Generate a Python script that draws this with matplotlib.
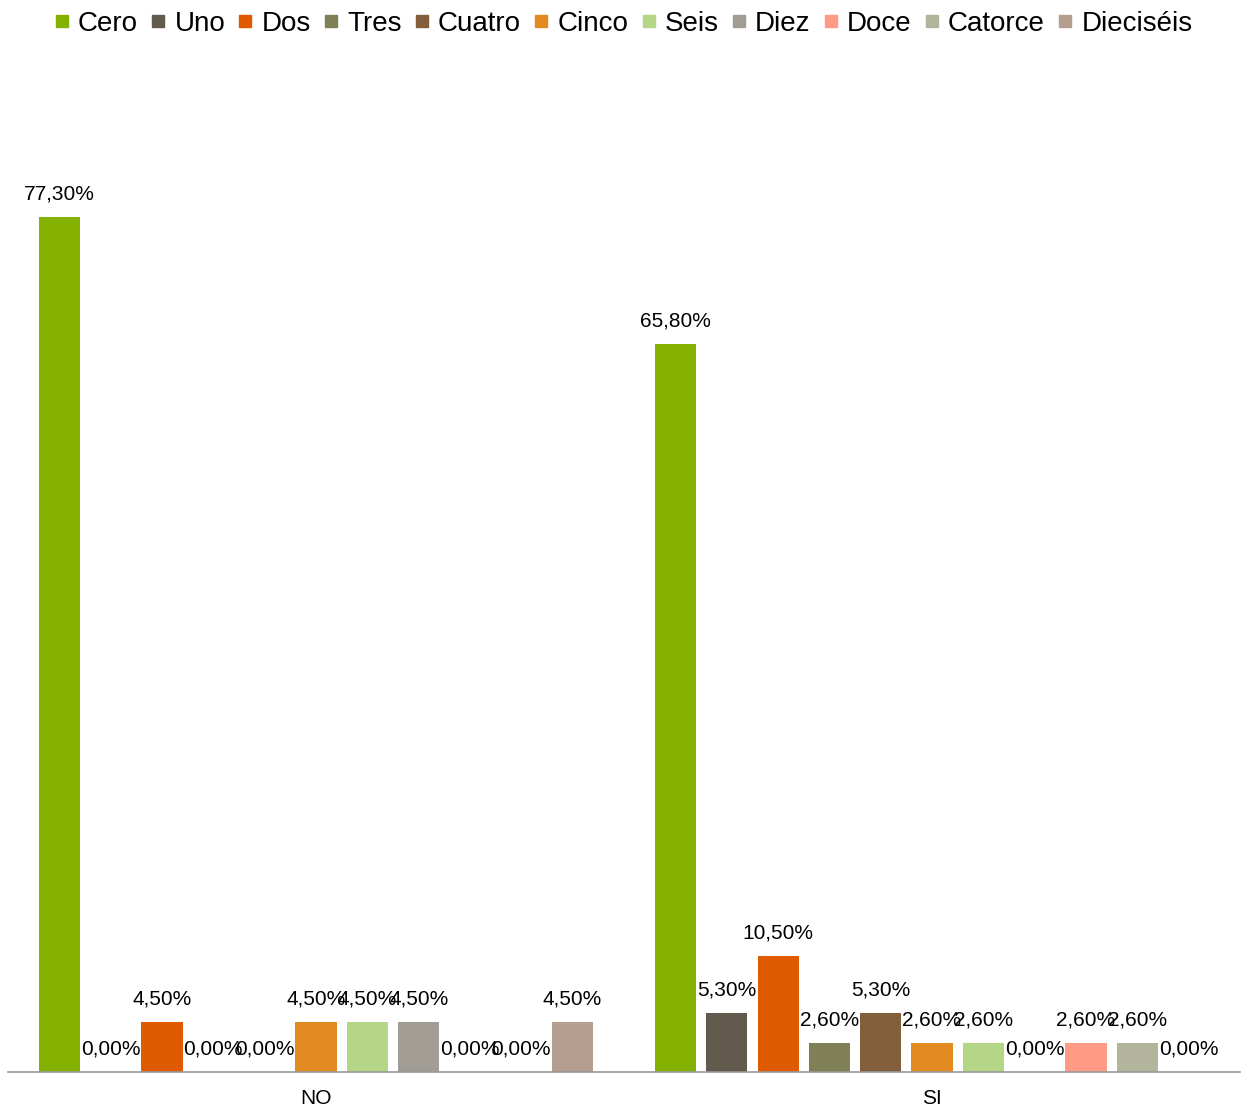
import numpy as np
import matplotlib.pyplot as plt
from matplotlib.lines import Line2D

plt.rcParams["font.family"] = ["Liberation Sans", "DejaVu Sans"]

groups = ["NO", "SI"]
series = ["Cero", "Uno", "Dos", "Tres", "Cuatro", "Cinco", "Seis",
          "Diez", "Doce", "Catorce", "Dieciséis"]
no_vals = [77.3, 0.0, 4.5, 0.0, 0.0, 4.5, 4.5, 4.5, 0.0, 0.0, 4.5]
si_vals = [65.8, 5.3, 10.5, 2.6, 5.3, 2.6, 2.6, 0.0, 2.6, 2.6, 0.0]
colors = ["#84B000", "#635A4E", "#E05A00", "#7F8058", "#835E3A", "#E08A20",
          "#B4D686", "#A19D94", "#FF9B85", "#B2B59C", "#B59D90"]

vals = np.array([no_vals, si_vals])
n = len(series)
slot = 0.9165 / n
width = slot * 0.8
x = np.arange(len(groups))

fig = plt.figure(figsize=(12.48, 11.09), dpi=100)
ax = fig.add_axes([0.0064, 0.0334, 0.9872, 0.8981])

for i, name in enumerate(series):
    pos = x + (i - (n - 1) / 2) * slot
    ax.bar(pos, vals[:, i], width=width, color=colors[i], label=name)
    for px, v in zip(pos, vals[:, i]):
        txt = f"{v:.2f}%".replace(".", ",")
        ax.annotate(txt, (px, v), xytext=(0, 16.5), textcoords="offset points",
                    ha="center", va="center", fontsize=15)

ax.set_xlim(-0.5, 1.5)
ax.set_ylim(0, 90)
ax.set_xticks(x)
ax.set_xticklabels(groups, fontsize=15)
ax.tick_params(axis="x", length=0, pad=12)
ax.set_yticks([])
for s in ["top", "right", "left"]:
    ax.spines[s].set_visible(False)
ax.spines["bottom"].set_color("#999999")
ax.spines["bottom"].set_linewidth(1.2)

# square swatches for the legend row
handles = [Line2D([], [], marker="s", linestyle="", markersize=9,
                  color=c) for c in colors]
fig.legend(handles, series, loc="upper center", bbox_to_anchor=(0.5, 1.005),
           ncol=n, frameon=False, fontsize=20, handlelength=0.45,
           handletextpad=0.36, columnspacing=0.5, borderaxespad=0.2)

fig.savefig("out.png", dpi=100)
